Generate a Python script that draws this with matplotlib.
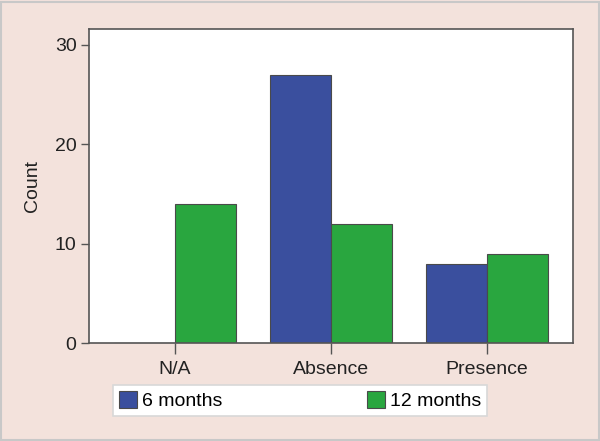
import matplotlib
matplotlib.use("Agg")
import matplotlib.pyplot as plt
import numpy as np
from matplotlib.patches import Rectangle

plt.rcParams['font.family'] = ['Liberation Sans', 'DejaVu Sans']

categories = ["N/A", "Absence", "Presence"]
series_names = ["6 months", "12 months"]
values_6m = [0, 27, 8]
values_12m = [14, 12, 9]
yticks = [0, 10, 20, 30]

bg = "#f3e2dc"
blue = "#3a4f9e"
green = "#29a63f"
edge = "#4a4a4a"
fs = 14

fig = plt.figure(figsize=(6, 4.41), dpi=100, facecolor=bg)
fig.patches.append(Rectangle((0.002, 0.002), 0.996, 0.994, transform=fig.transFigure,
                             fill=False, edgecolor="#c8c8c8", linewidth=1.5))
ax = fig.add_axes([89/600, 1-343/441, (573-89)/600, (343-29)/441])
ax.set_facecolor("white")

x = np.arange(len(categories))
w = 0.39
ax.bar(x - w/2, values_6m, w, color=blue, edgecolor=edge, linewidth=0.8, label=series_names[0])
ax.bar(x + w/2, values_12m, w, color=green, edgecolor=edge, linewidth=0.8, label=series_names[1])

ax.set_xlim(-0.55, 2.55)
ax.set_ylim(0, 31.6)
ax.set_xticks(x)
ax.set_xticklabels(categories, fontsize=fs, color="#222222")
ax.set_yticks(yticks)
ax.set_yticklabels([str(t) for t in yticks], fontsize=fs, color="#222222")
ax.set_ylabel("Count", fontsize=fs, color="#222222", labelpad=10)
ax.tick_params(axis='x', length=8, width=1, color="#555555", pad=5)
ax.tick_params(axis='y', length=6, width=1, color="#555555", pad=3)
for s in ax.spines.values():
    s.set_color("#555555")
    s.set_linewidth(1.2)

leg = fig.legend(loc="lower left", bbox_to_anchor=(113/600, 25/441, (487-113)/600, 32/441),
                 mode="expand", ncol=2, fontsize=fs, frameon=True, fancybox=False,
                 handlelength=0.95, handleheight=0.95, handletextpad=0.25, borderaxespad=0,
                 borderpad=0.3)
leg.get_frame().set_edgecolor("#d8d8d8")
leg.get_frame().set_linewidth(1.2)
leg.get_frame().set_facecolor("white")
leg.get_frame().set_alpha(1)

fig.savefig("out.png", dpi=100, facecolor=bg)
